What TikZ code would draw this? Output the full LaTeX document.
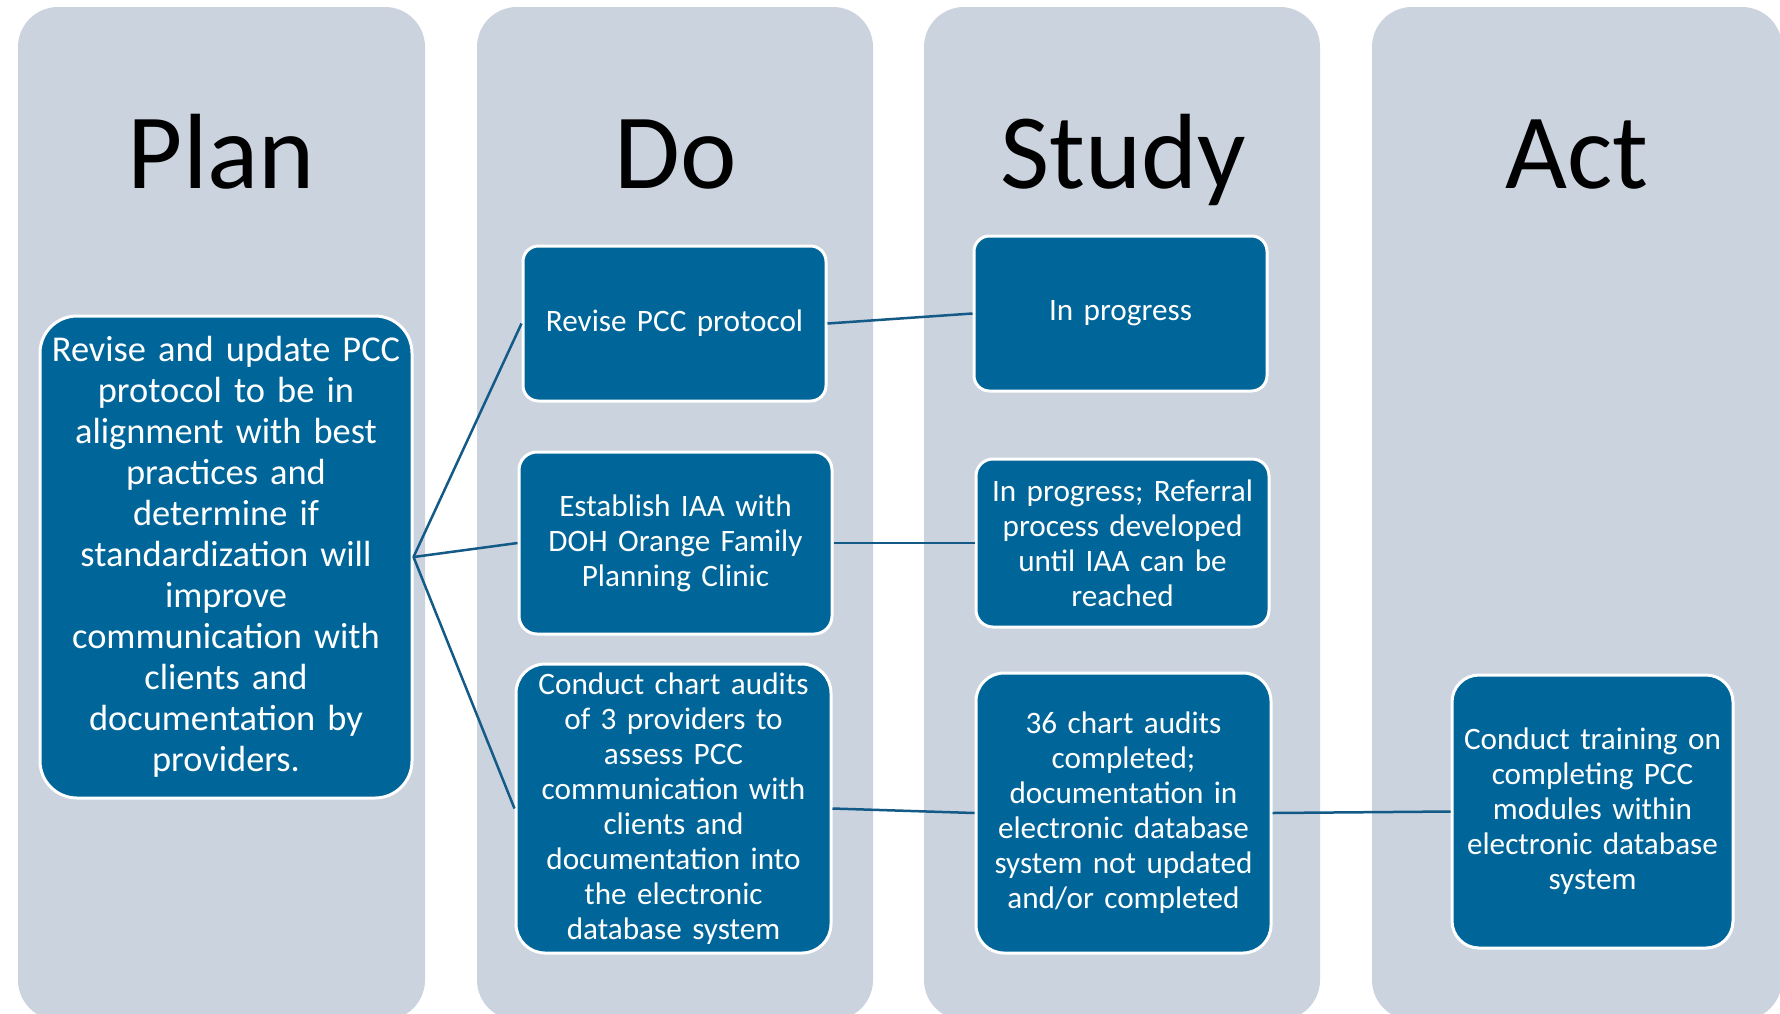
\documentclass[tikz,border=0pt]{standalone}
\usepackage{fontspec}
\setmainfont{Carlito}
\definecolor{colbg}{HTML}{CBD3DF}
\definecolor{boxblue}{HTML}{006699}
\definecolor{linkblue}{HTML}{145A86}
\tikzset{
  column/.style={fill=colbg},
  coltitle/.style={anchor=base, text=black, font=\fontsize{107}{128}\selectfont},
  stepbox/.style={draw=white, line width=3pt, fill=boxblue, text=white, align=center, inner sep=0pt,
    font=\fontsize{31.2}{35}\selectfont},
  bigbox/.style={stepbox, font=\fontsize{36.4}{41}\selectfont},
  conn/.style={draw=linkblue, line width=2.5pt}
}
\begin{document}
\begin{tikzpicture}[x=1pt,y=-1pt]
\useasboundingbox (0,0) rectangle (1780,1013);
\clip (0,0) rectangle (1780,1013);
% columns
\fill[column, rounded corners=40pt] (18,7) rectangle (425,1020);
\fill[column, rounded corners=40pt] (477,7) rectangle (873,1020);
\fill[column, rounded corners=40pt] (924,7) rectangle (1320,1020);
\fill[column, rounded corners=40pt] (1372,7) rectangle (1782,1020);
% titles
\node[coltitle] (tplan) at (221.5,188) {Plan};
\node[coltitle] (tdo) at (676,188) {Do};
\node[coltitle] (tstudy) at (1123,188) {Study};
\node[coltitle] (tact) at (1577,188) {Act};
% boxes
\node[bigbox, rounded corners=37pt, minimum width=372pt, minimum height=482pt, text width=362pt] (plan) at (226,557)
  {Revise and update PCC\\protocol to be in\\alignment with best\\practices and\\determine if\\standardization will\\improve\\communication with\\clients and\\documentation by\\providers.};
\node[stepbox, rounded corners=15.5pt, minimum width=303pt, minimum height=155pt, text width=293pt] (do1) at (674.5,323.5)
  {Revise PCC protocol};
\node[stepbox, rounded corners=18pt, minimum width=313pt, minimum height=182pt, text width=303pt] (do2) at (675.5,543)
  {Establish IAA with\\DOH Orange Family\\Planning Clinic};
\node[stepbox, rounded corners=29pt, minimum width=315pt, minimum height=289pt, text width=305pt] (do3) at (673.5,808.5)
  {Conduct chart audits\\of 3 providers to\\assess PCC\\communication with\\clients and\\documentation into\\the electronic\\database system};
\node[stepbox, rounded corners=15.5pt, minimum width=293pt, minimum height=155pt, text width=283pt] (st1) at (1120.5,313.5)
  {In progress};
\node[stepbox, rounded corners=17pt, minimum width=293pt, minimum height=168pt, text width=287pt] (st2) at (1122.5,543)
  {In progress; Referral\\process developed\\until IAA can be\\reached};
\node[stepbox, rounded corners=28pt, minimum width=295pt, minimum height=280pt, text width=287pt] (st3) at (1123.5,813)
  {36 chart audits\\completed;\\documentation in\\electronic database\\system not updated\\and/or completed};
\node[stepbox, rounded corners=27pt, minimum width=281pt, minimum height=273pt, text width=273pt] (act) at (1592.5,811.5)
  {Conduct training on\\completing PCC\\modules within\\electronic database\\system};
% connectors
\draw[conn] (plan.east) -- (do1.west);
\draw[conn] (plan.east) -- (do2.west);
\draw[conn] (plan.east) -- (do3.west);
\draw[conn] (do1.east) -- (st1.west);
\draw[conn] (do2.east) -- (st2.west);
\draw[conn] (do3.east) -- (st3.west);
\draw[conn] (st3.east) -- (act.west);
\end{tikzpicture}
\end{document}
